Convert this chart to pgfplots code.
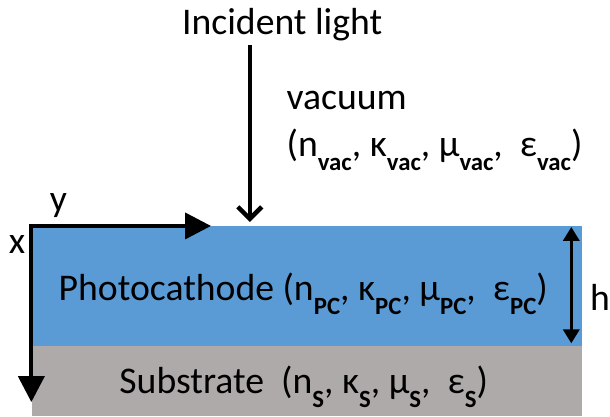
\documentclass[border=0pt]{standalone}
\usepackage{pgfplots}
\pgfplotsset{compat=1.18}
\usetikzlibrary{arrows.meta}
\usepackage{fontspec}
\setmainfont{Carlito}
\definecolor{pcblue}{HTML}{5B9BD5}
\definecolor{subgray}{HTML}{AEAAAA}
\newcommand\sub[1]{\raisebox{-0.38em}{\fontsize{25}{28}\selectfont\bfseries #1}}
\begin{document}
\begin{tikzpicture}
\begin{axis}[
  x=1bp, y=1bp, xmin=0, xmax=610, ymin=0, ymax=418,
  y dir=reverse, hide axis, clip=false, scale only axis,
]
\addplot[draw=none, forget plot] coordinates {(0,0) (610,418)};
% layers
\addplot[fill=pcblue, draw=none] coordinates {(32,227) (585,227) (585,348) (32,348)} -- cycle;
\addplot[fill=subgray, draw=none] coordinates {(32,348) (585,348) (585,418) (32,418)} -- cycle;
% coordinate axes
\addplot[line width=4bp, line join=miter, {Triangle[length=26bp,width=26bp]}-{Triangle[length=26bp,width=26bp]}]
  coordinates {(212,227) (31.5,227) (31.5,404)};
% incident light arrow
\addplot[line width=4bp, -{Straight Barb[length=12bp,width=24bp,line width=4.5bp]}]
  coordinates {(251,45) (251,223)};
% thickness arrow
\addplot[line width=3.5bp, {Triangle[length=14bp,width=16bp]}-{Triangle[length=14bp,width=16bp]}]
  coordinates {(574,228) (574,345)};
\end{axis}
\begin{scope}[every node/.style={inner sep=0pt, outer sep=0pt, font=\fontsize{38}{44}\selectfont}]
\node[anchor=base west] at (183bp,418bp-35bp) {Incident light};
\node[anchor=base west] at (288bp,418bp-110bp) {vacuum};
\node[anchor=base west] at (288bp,418bp-157bp) {(n\sub{vac}, κ\sub{vac}, μ\sub{vac},\ \ ε\sub{vac})};
\node[anchor=base west] at (59bp,418bp-302bp) {Photocathode (n\sub{PC}, κ\sub{PC}, μ\sub{PC},\ \ ε\sub{PC})};
\node[anchor=base west] at (120bp,418bp-395bp) {Substrate\ \ (n\sub{S}, κ\sub{S}, μ\sub{S},\ \ ε\sub{S})};
\node[anchor=base west] at (50bp,418bp-213bp) {y};
\node[anchor=base west] at (9bp,418bp-255bp) {x};
\node[anchor=base west] at (593bp,418bp-312bp) {h};
\end{scope}
\end{tikzpicture}
\end{document}
